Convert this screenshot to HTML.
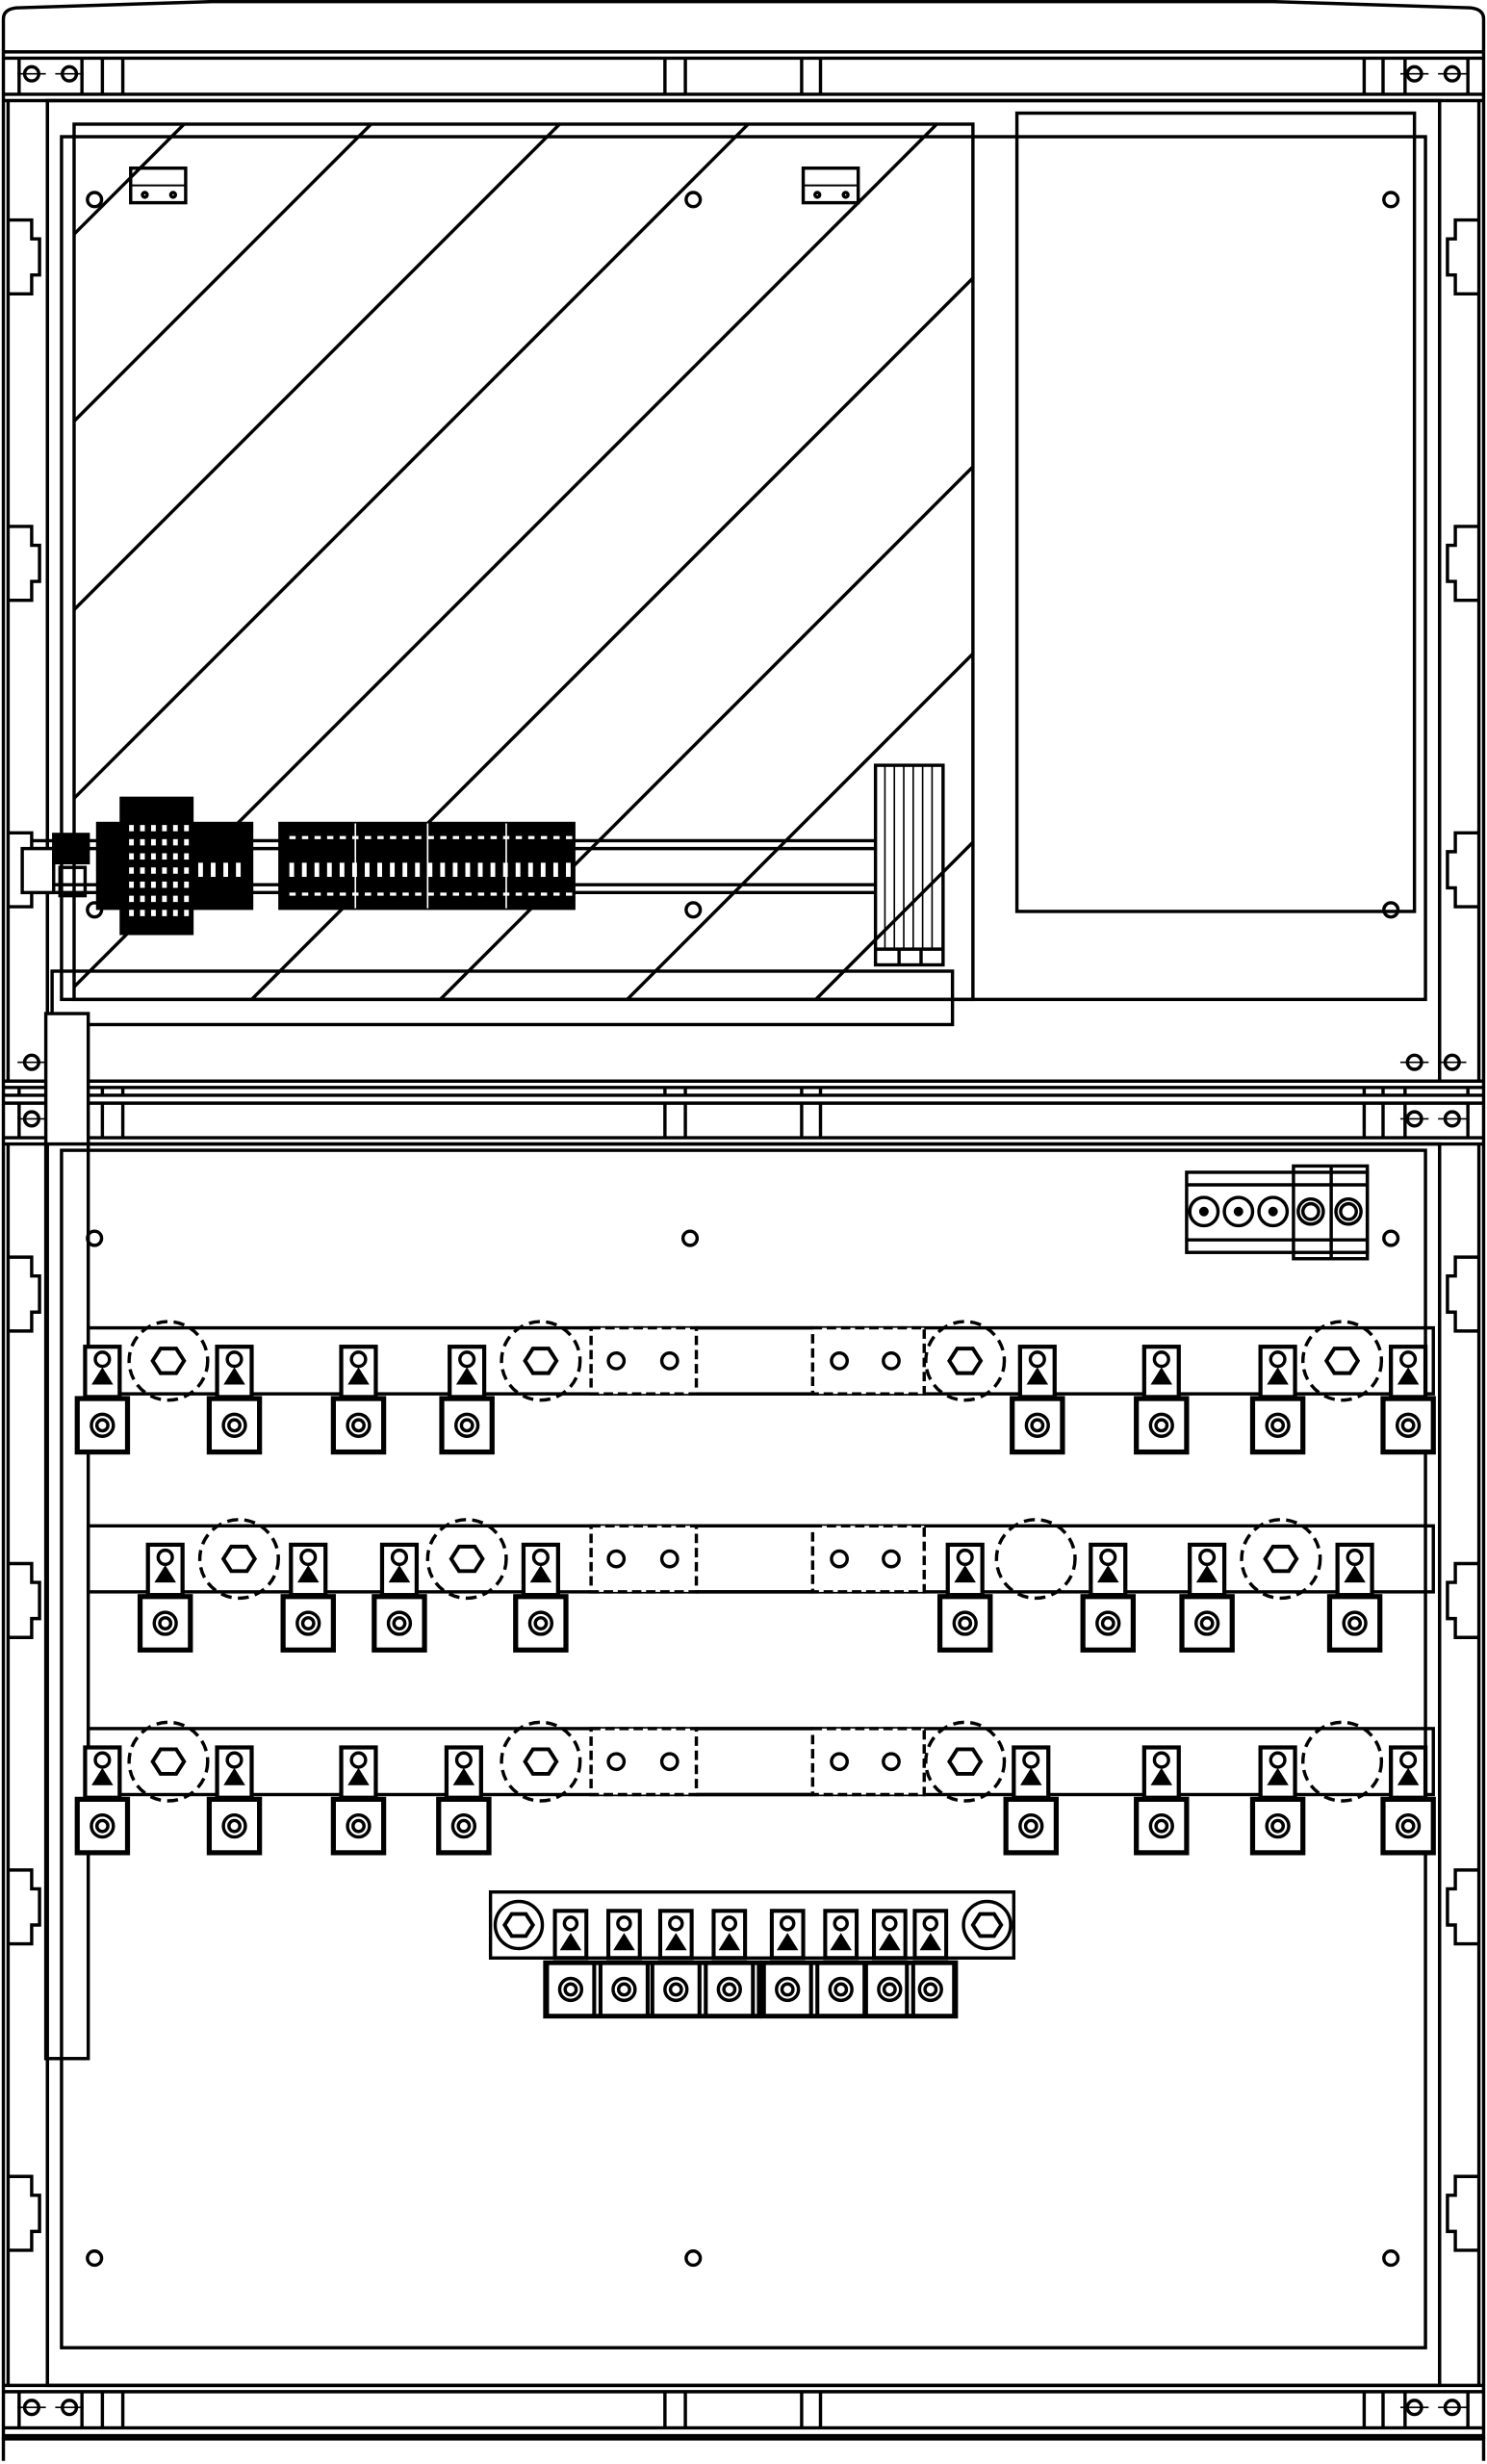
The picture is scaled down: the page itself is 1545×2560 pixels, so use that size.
<!DOCTYPE html>
<html><head><meta charset="utf-8"><style>html,body{margin:0;padding:0;background:#fff}svg{display:block}</style></head>
<body>
<svg id="s" width="1545" height="2560" viewBox="0 0 946 1568" xmlns="http://www.w3.org/2000/svg" fill="none" stroke="#000" stroke-width="2.1">
<defs><clipPath id="hc"><rect x="47" y="79" width="572" height="557"/></clipPath></defs>
<g id="g"></g>
</svg>
<script>
const g=document.getElementById('g');let h='';
const L=(a,b,c,d,w)=>h+=`<line x1="${a}" y1="${b}" x2="${c}" y2="${d}"${w?` stroke-width="${w}"`:''}/>`;
const R=(x,y,w,hh,extra='')=>h+=`<rect x="${x}" y="${y}" width="${w}" height="${hh}" ${extra}/>`;
const C=(x,y,r,extra='')=>h+=`<circle cx="${x}" cy="${y}" r="${r}" ${extra}/>`;
h+=`<path d="M2 33 L2 12 Q2 6 10 5 L135 1 L810 1 L936 5 Q944 6 944 12 L944 33"/>`;
h+=`<path d="M2 1566 L2 1552 L944 1552 L944 1566"/>`;
[33,37,60,64].forEach(y=>L(2,y,944,y));
[688,692,697,702,724,728].forEach(y=>L(2,y,944,y));
[1518,1522,1545,1550].forEach(y=>L(2,y,944,y));
[2,944].forEach(x=>L(x,33,x,1552));
[[5,30],[916,941]].forEach(([a,b])=>{L(a,64,a,688);L(b,64,b,688);L(a,728,a,1518);L(b,728,b,1518);});
L(30,64,30,688);L(916,64,916,688);L(30,728,30,1518);L(916,728,916,1518);
function notch(x0,dir,ys){ys.forEach(y=>{h+=`<path d="M${x0} ${y} L${x0+dir*15} ${y} L${x0+dir*15} ${y+12} L${x0+dir*20} ${y+12} L${x0+dir*20} ${y+35} L${x0+dir*15} ${y+35} L${x0+dir*15} ${y+47} L${x0} ${y+47}"/>`;});}
notch(5,1,[140,335,530]);notch(941,-1,[140,335,530]);
notch(5,1,[800,995,1190,1385]);notch(941,-1,[800,995,1190,1385]);
[[37,60],[692,697],[702,724],[1522,1545]].forEach(([a,b])=>{[12,52,65,78,423,436,510,522,868,880,894,934].forEach(x=>L(x,a,x,b));});
[47,676,712,1532].forEach(y=>[20,44,900,924].forEach(x=>{C(x,y,4.5);L(x-9,y,x+9,y,1);}));
R(30,64,886,624);R(39,87,868,549);R(647,72,253,508);R(47,79,572,557);
[196,315,435,555,675,796,916,1035,1155].forEach(k=>h+=`<line clip-path="url(#hc)" x1="${k-700}" y1="700" x2="${k}" y2="0"/>`);
R(83,107,35,22);L(83,118,118,118,1.2);C(92,124,1.5);C(110,124,1.5);R(511,107,35,22);L(511,118,546,118,1.2);C(520,124,1.5);C(538,124,1.5);
[[60,127],[441,127],[885,127],[441,579],[885,579],[60,579]].forEach(p=>C(p[0],p[1],4.5));
[535,540,563,568].forEach(y=>L(20,y,557,y));
R(14,540,20,28,'fill="#fff"');R(34,531,22,18,'fill="#000"');R(38,552,16,18);
R(62,524,98,54,'fill="#000"');R(77,508,45,86,'fill="#000"');R(178,524,187,54,'fill="#000"');
let w='';for(let x=82;x<120;x+=7){for(let y=525;y<580;y+=9)w+=`<rect x="${x}" y="${y}" width="3" height="4" fill="#fff" stroke="none"/>`;}
for(let x=126;x<158;x+=8){w+=`<rect x="${x}" y="549" width="3" height="9" fill="#fff" stroke="none"/>`;}
for(let x=184;x<362;x+=8){w+=`<rect x="${x}" y="549" width="3" height="9" fill="#fff" stroke="none"/><rect x="${x}" y="532" width="4" height="2" fill="#fff" stroke="none"/><rect x="${x}" y="568" width="4" height="2" fill="#fff" stroke="none"/>`;}
[226,272,322].forEach(x=>w+=`<line x1="${x}" y1="524" x2="${x}" y2="578" stroke="#fff" stroke-width="1"/>`);
h+=w;
R(557,487,43,127);[563,569,575,581,587,593].forEach(x=>L(x,487,x,604,1));L(557,604,600,604);L(572,604,572,614);L(586,604,586,614);
R(33,618,573,34);
R(29,645,27,665,'fill="#fff"');
R(30,728,886,790);R(39,732,868,762);
[[60,788],[439,788],[885,788],[60,1437],[441,1437],[885,1437]].forEach(p=>C(p[0],p[1],4.5));
R(755,746,115,51);L(755,754,870,754);L(755,789,870,789);R(823,742,47,59);L(847,742,847,801);
[766,788,810].forEach(x=>{C(x,771,9);C(x,771,2,'fill="#000"');});[834,858].forEach(x=>{C(x,771,8);C(x,771,5);});
function hex(x,y,r){let p=[];for(let i=0;i<6;i++){let a=Math.PI/3*i;p.push((x+r*Math.cos(a)).toFixed(1)+','+(y+r*0.9*Math.sin(a)).toFixed(1));}h+=`<polygon points="${p.join(' ')}" stroke-width="2.4"/>`;}
function term(x,yb){
 R(x-11,yb+12,22,32,'stroke-width="2.6" fill="#fff"');C(x,yb+20,4.5);h+=`<polygon points="${x-5},${yb+35} ${x+5},${yb+35} ${x},${yb+27}" fill="#000"/>`;
 R(x-16,yb+45,32,34,'stroke-width="3.2" fill="#fff"');C(x,yb+62,7);C(x,yb+62,3.5);}
function bar(y,circ,terms){
 R(56,y,856,42);
 h+=`<rect x="376" y="${y}" width="67" height="42" stroke-dasharray="6,3" fill="#fff"/><rect x="517" y="${y}" width="71" height="42" stroke-dasharray="6,3" fill="#fff"/>`;
 L(443,y,517,y);L(443,y+42,517,y+42);
 [392,426,534,567].forEach(x=>C(x,y+21,5));
 circ.forEach(([x,hx])=>{C(x,y+21,25,'stroke-dasharray="7,4"');if(hx)hex(x,y+21,10);});
 terms.forEach(x=>term(x,y));}
bar(845,[[107,1],[344,1],[614,1],[854,1]],[65,149,228,297,660,739,813,896]);
bar(971,[[152,1],[297,1],[659,0],[815,1]],[105,196,254,344,614,705,768,862]);
bar(1100,[[107,1],[344,1],[614,1],[854,0]],[65,149,228,295,656,739,813,896]);
R(312,1204,333,42);C(330,1225,15);hex(330,1225,9);C(628,1225,15);hex(628,1225,9);
R(347,1249,136,34,'stroke-width="3"');R(485,1249,123,34,'stroke-width="3"');
[363,397,430,464,501,535,566,592].forEach(x=>{R(x-10,1216,20,30,'stroke-width="2.5" fill="#fff"');C(x,1224,4);h+=`<polygon points="${x-5},${1240} ${x+5},${1240} ${x},${1232}" fill="#000"/>`;R(x-15,1249,30,34,'stroke-width="2.5"');C(x,1266,7);C(x,1266,3.5);});
g.innerHTML=h;
</script>
</body></html>
